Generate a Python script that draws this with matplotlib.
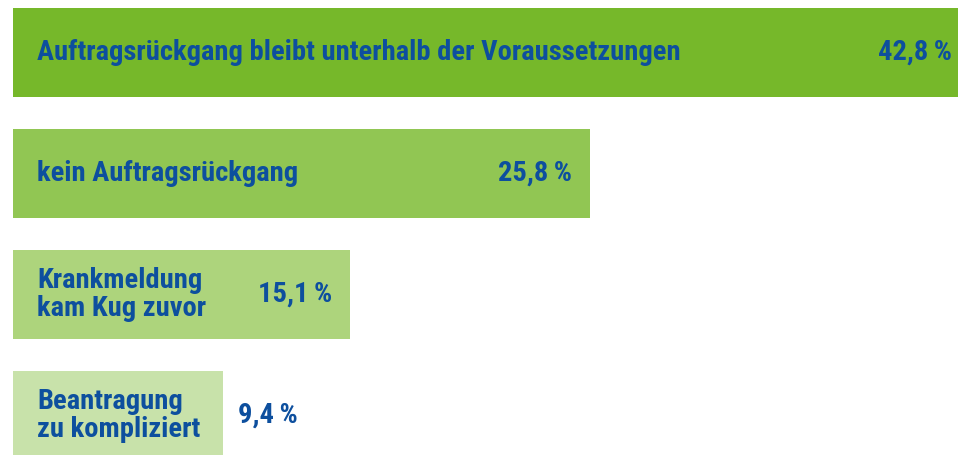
import matplotlib
matplotlib.use("Agg")
import matplotlib.pyplot as plt
from matplotlib import font_manager

categories = [
    "Auftragsrückgang bleibt unterhalb der Voraussetzungen",
    "kein Auftragsrückgang",
    "Krankmeldung\nkam Kug zuvor",
    "Beantragung\nzu kompliziert",
]
values = [42.8, 25.8, 15.1, 9.4]
value_labels = ["42,8\u2009%", "25,8\u2009%", "15,1\u2009%", "9,4\u2009%"]
colors = ["#76b82a", "#91c653", "#add47c", "#c8e2aa"]
text_color = "#0d4f9e"

available = {f.name for f in font_manager.fontManager.ttflist}
candidates = ["Liberation Sans Narrow", "Roboto Condensed", "Open Sans Condensed",
              "Noto Sans Condensed", "DejaVu Sans Condensed", "Liberation Sans", "DejaVu Sans"]
font = next(c for c in candidates if c in available)
fam = [font, "DejaVu Sans"]

W, H = 958, 455
fig = plt.figure(figsize=(W / 100, H / 100), dpi=100)
left_px = 13
ax = fig.add_axes([left_px / W, 0, (W - left_px) / W, 1])
px_per_unit = 22.35
ax.set_xlim(0, (W - left_px) / px_per_unit)
ax.set_ylim(3.3264, -0.4339)
ax.axis("off")

ypos = list(range(len(values)))
ax.barh(ypos, values, height=0.7355, color=colors, edgecolor="none")

fs = 20.5
for y, cat, v, lab in zip(ypos, categories, values, value_labels):
    ax.annotate(cat, xy=(0, y), xytext=(24, 0), textcoords="offset pixels",
                ha="left", va="center", fontsize=fs, fontweight="bold",
                color=text_color, family=fam, linespacing=1.06,
                annotation_clip=False)
    if v >= 10:
        ax.annotate(lab, xy=(v, y), xytext=(-18, 0), textcoords="offset pixels",
                    ha="right", va="center", fontsize=fs, fontweight="bold",
                    color=text_color, family=fam, annotation_clip=False)
    else:
        ax.annotate(lab, xy=(v, y), xytext=(15, 0), textcoords="offset pixels",
                    ha="left", va="center", fontsize=fs, fontweight="bold",
                    color=text_color, family=fam, annotation_clip=False)

fig.savefig("out.png", dpi=100)
